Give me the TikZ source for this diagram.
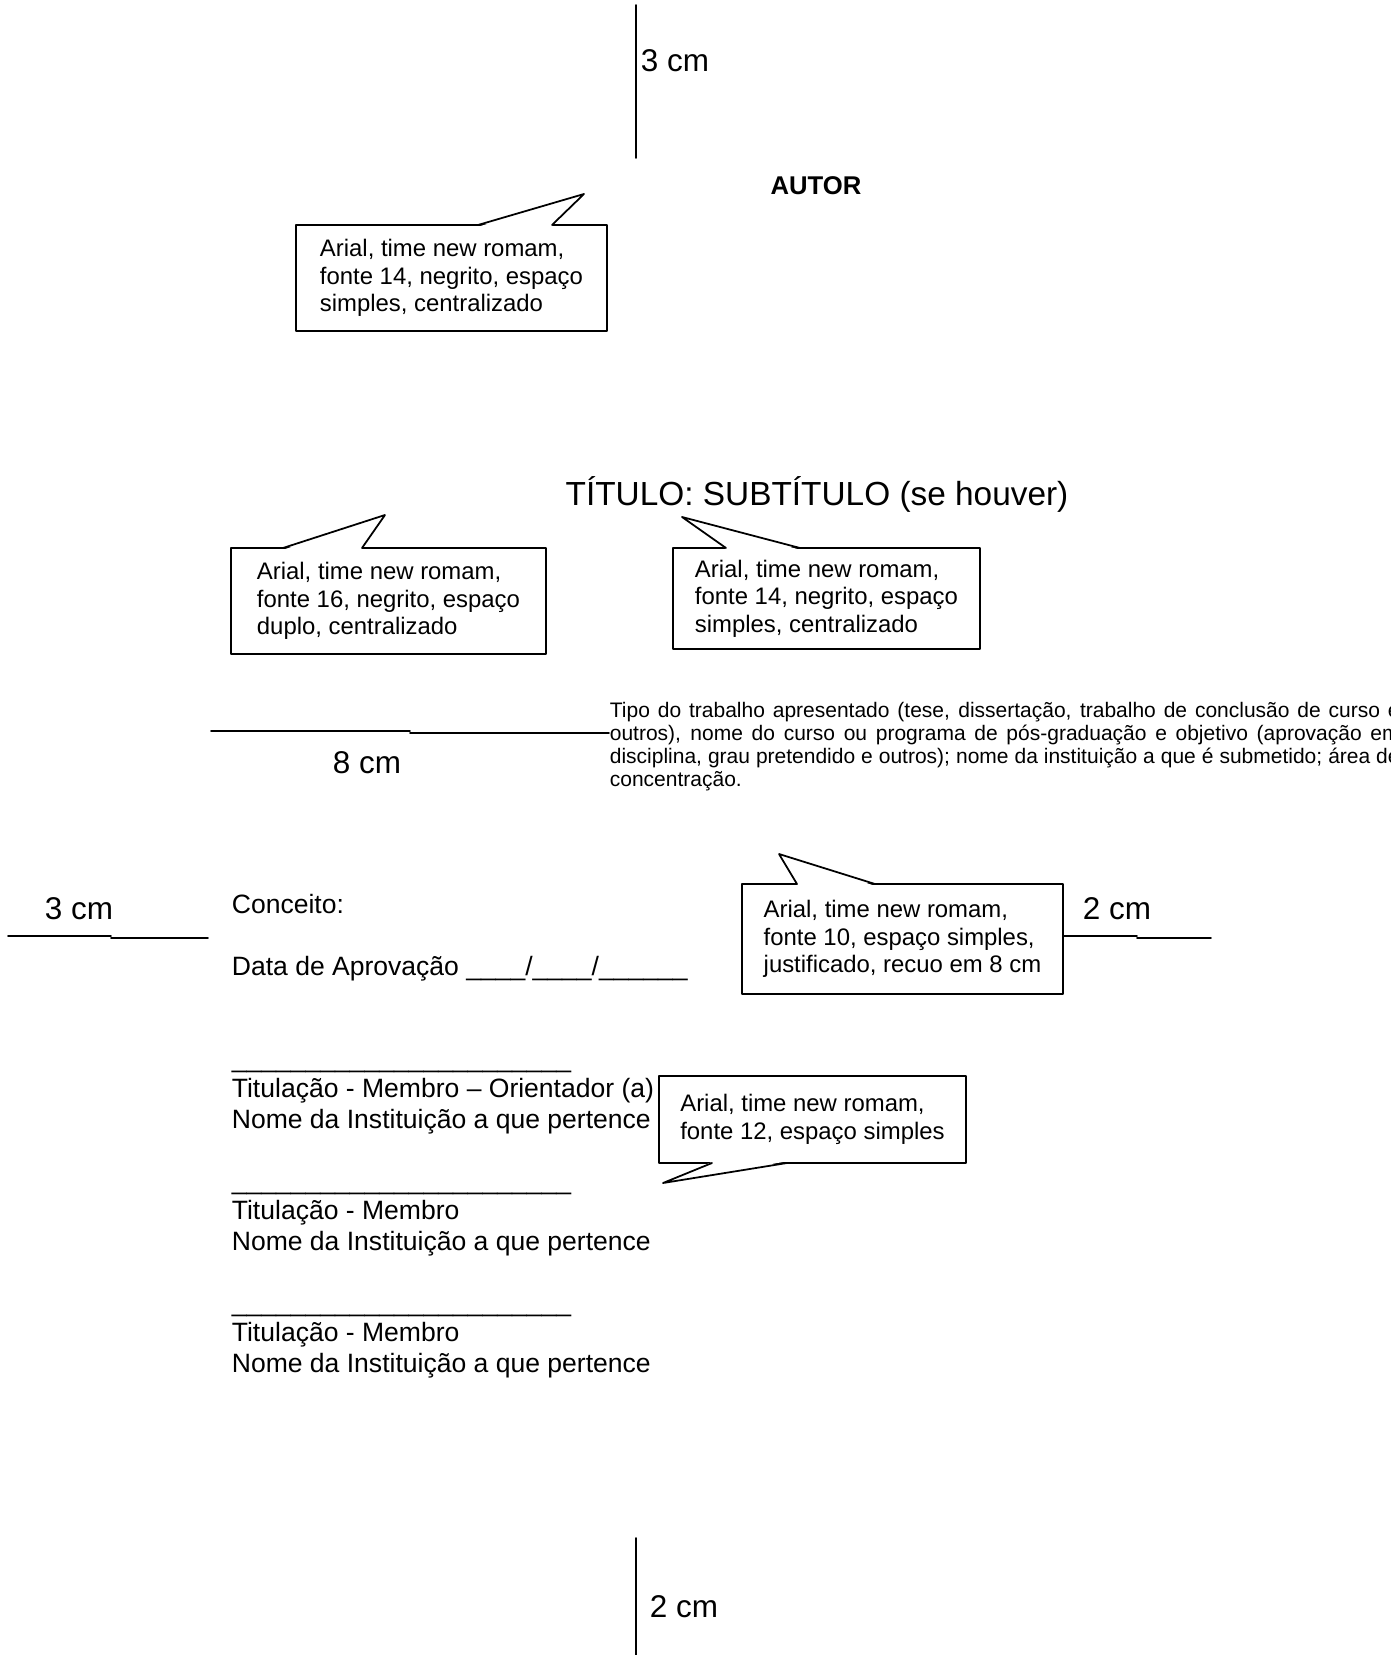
\documentclass[tikz,border=0pt]{standalone}
\usepackage{fontspec}
\setmainfont{Liberation Sans}
\usepackage{tikz}
\usetikzlibrary{calc,positioning}

\tikzset{
  balao/.style={draw,rectangle,align=left,anchor=north west,inner sep=0pt,outer sep=0pt,
    font=\fontsize{13.6}{15.6}\selectfont},
  medida/.style={inner sep=0pt,font=\fontsize{17.9}{20}\selectfont},
  corpo/.style={anchor=base west,inner sep=0pt,font=\fontsize{15.1}{17.4}\selectfont},
  paragrafo/.style={anchor=base west,inner sep=0pt,font=\fontsize{11.95}{13.2}\selectfont}
}

\begin{document}
\begin{tikzpicture}[line cap=round,line join=round,line width=1pt,x=0.02cm,y=-0.02cm]
\useasboundingbox (0,0) rectangle (1390,1655);
% margens
\draw (636,5) -- (636,158);
\node[medida,anchor=base west] (sup) at (640,72) {3 cm};
\draw (636,1538) -- (636,1660);
\node[medida,anchor=base west] (inf) at (649,1617) {2 cm};
\draw (8,936) -- (111,936); \draw (111,938) -- (208,938);
\node[medida,anchor=base] (esq) at (79,919) {3 cm};
\draw (1063,936) -- (1137,936); \draw (1137,938) -- (1211,938);
\node[medida,anchor=base] (dir) at (1117,919) {2 cm};
\draw (211,731) -- (410,731); \draw (410,733) -- (609,733);
\node[medida,anchor=base] (recuo) at (367,773) {8 cm};

\node[anchor=base,inner sep=0pt,font=\fontsize{14.6}{17}\selectfont\bfseries] (autor) at (816,195) {AUTOR};
\node[anchor=base,inner sep=0pt,font=\fontsize{19}{22}\selectfont] (titulo) at (817,505) {TÍTULO: SUBTÍTULO (se houver)};

\begin{scope}
\clip (0,0) rectangle (1390,1655);
\node[paragrafo] (tipo1) at (609,717) {\makebox[15.8cm][s]{Tipo do trabalho apresentado (tese, dissertação, trabalho de conclusão de curso e}};
\node[paragrafo] (tipo2) at (609,740) {\makebox[15.8cm][s]{outros), nome do curso ou programa de pós-graduação e objetivo (aprovação em}};
\node[paragrafo] (tipo3) at (609,763) {\makebox[15.8cm][s]{disciplina, grau pretendido e outros); nome da instituição a que é submetido; área de}};
\node[paragrafo] (tipo4) at (609,786) {concentração.};
\end{scope}

% folha de aprovacao
\node[corpo] (conceito) at (231,913) {Conceito:};
\node[corpo] (data) at (231,975) {Data de Aprovação \_\_\_\_/\_\_\_\_/\_\_\_\_\_\_};
\node[corpo] (ass1) at (231,1067) {\_\_\_\_\_\_\_\_\_\_\_\_\_\_\_\_\_\_\_\_\_\_\_};
\node[corpo] (tit1) at (231,1097.5) {Titulação - Membro -- Orientador (a)};
\node[corpo] (inst1) at (231,1128) {Nome da Instituição a que pertence};
\node[corpo] (ass2) at (231,1189) {\_\_\_\_\_\_\_\_\_\_\_\_\_\_\_\_\_\_\_\_\_\_\_};
\node[corpo] (tit2) at (231,1219.5) {Titulação - Membro};
\node[corpo] (inst2) at (231,1250) {Nome da Instituição a que pertence};
\node[corpo] (ass3) at (231,1311) {\_\_\_\_\_\_\_\_\_\_\_\_\_\_\_\_\_\_\_\_\_\_\_};
\node[corpo] (tit3) at (231,1341.5) {Titulação - Membro};
\node[corpo] (inst3) at (231,1372) {Nome da Instituição a que pertence};

% baloes
\node[balao,minimum width=6.22cm,minimum height=2.12cm] (bautor) at (296,225) {Arial, time new romam,\\fonte 14, negrito, espaço\\simples, centralizado};
\coordinate (pautor) at (584,194);
\fill[white] ($(bautor.north west)+(183,1.5)$) -- (pautor) -- ($(bautor.north west)+(255,1.5)$) -- cycle;
\draw ($(bautor.north west)+(182,0)$) -- (pautor) -- ($(bautor.north west)+(256,0)$);

\node[balao,minimum width=6.3cm,minimum height=2.12cm] (btitulo) at (231,548) {Arial, time new romam,\\fonte 16, negrito, espaço\\duplo, centralizado};
\coordinate (ptitulo) at (385,515);
\fill[white] ($(btitulo.north west)+(53,1.5)$) -- (ptitulo) -- ($(btitulo.north west)+(130,1.5)$) -- cycle;
\draw ($(btitulo.north west)+(52,0)$) -- (ptitulo) -- ($(btitulo.north west)+(131,0)$);

\node[balao,minimum width=6.14cm,minimum height=2.02cm] (bsub) at (673,548) {Arial, time new romam,\\fonte 14, negrito, espaço\\simples, centralizado};
\coordinate (psub) at (682,517);
\fill[white] ($(bsub.north west)+(54,1.5)$) -- (psub) -- ($(bsub.north west)+(126,1.5)$) -- cycle;
\draw ($(bsub.north west)+(53,0)$) -- (psub) -- ($(bsub.north west)+(127,0)$);

\node[balao,minimum width=6.42cm,minimum height=2.2cm] (btipo) at (742,884) {Arial, time new romam,\\fonte 10, espaço simples,\\justificado, recuo em 8 cm};
\coordinate (ptipo) at (779,854);
\fill[white] ($(btipo.north west)+(56,1.5)$) -- (ptipo) -- ($(btipo.north west)+(132,1.5)$) -- cycle;
\draw ($(btipo.north west)+(55,0)$) -- (ptipo) -- ($(btipo.north west)+(133,0)$);

\node[balao,minimum width=6.14cm,minimum height=1.74cm] (bbanca) at (659,1076) {Arial, time new romam,\\fonte 12, espaço simples};
\coordinate (pbanca) at (663,1183);
\fill[white] ($(bbanca.south west)+(54,-1.5)$) -- (pbanca) -- ($(bbanca.south west)+(127,-1.5)$) -- cycle;
\draw ($(bbanca.south west)+(53,0)$) -- (pbanca) -- ($(bbanca.south west)+(128,0)$);
\end{tikzpicture}
\end{document}
